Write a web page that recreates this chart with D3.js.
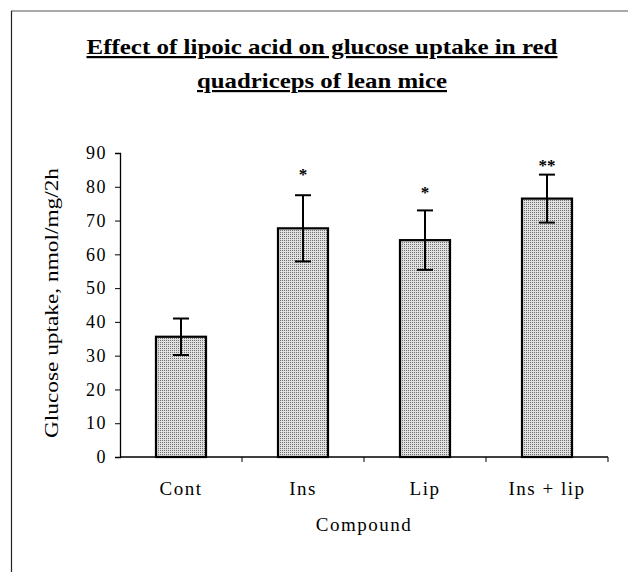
<!DOCTYPE html>
<html>
<head>
<meta charset="utf-8">
<script src="https://cdn.jsdelivr.net/npm/d3@7"></script>
<style>
  body { margin: 0; background: #fff; }
  text { font-family: "Liberation Serif", "Times New Roman", serif; fill: #000; }
</style>
</head>
<body>
<svg width="628" height="572"></svg>
<script>
// data
var compounds = ["Cont", "Ins", "Lip", "Ins + lip"];
var uptake = [35.6, 67.7, 64.2, 76.5];
var errors = [5.4, 9.8, 8.8, 7.1];
var stars = ["", "*", "*", "**"];
var starLevel = [0, 84.7, 79.3, 87.3]; // where the significance marks sit, in y units
var yTicks = [0, 10, 20, 30, 40, 50, 60, 70, 80, 90];

var svg = d3.select("svg");

// frame lines (top and left only are visible)
svg.append("line").attr("x1", 11).attr("y1", 11).attr("x2", 628).attr("y2", 11)
   .attr("stroke", "#555").attr("stroke-width", 1);
svg.append("line").attr("x1", 11.5).attr("y1", 11).attr("x2", 11.5).attr("y2", 572)
   .attr("stroke", "#222").attr("stroke-width", 1.2);

// dotted fill
var defs = svg.append("defs");
var pat = defs.append("pattern").attr("id", "dots")
    .attr("width", 2).attr("height", 2).attr("patternUnits", "userSpaceOnUse");
pat.append("rect").attr("width", 2).attr("height", 2).attr("fill", "#e0e0e0");
pat.append("rect").attr("width", 1).attr("height", 1).attr("fill", "#707070");

var x = d3.scaleBand().domain(compounds).range([120, 608]).paddingInner(0.59).paddingOuter(0.295);
var y = d3.scaleLinear().domain([0, 90]).range([457, 153]);

// title
var title = ["Effect of lipoic acid on glucose uptake in red", "quadriceps of lean mice"];
var tW = [471, 250];
var tY = [54, 88];
title.forEach(function(t, i) {
  svg.append("text").attr("x", 322).attr("y", tY[i]).attr("text-anchor", "middle")
     .attr("font-size", 22).attr("font-weight", "bold")
     .attr("textLength", tW[i]).attr("lengthAdjust", "spacingAndGlyphs")
     .attr("text-decoration", "underline")
     .text(t);
});

// bars
svg.selectAll("rect.bar").data(compounds).enter().append("rect")
   .attr("class", "bar")
   .attr("x", function(d) { return x(d); })
   .attr("y", function(d, i) { return y(uptake[i]); })
   .attr("width", x.bandwidth())
   .attr("height", function(d, i) { return y(0) - y(uptake[i]); })
   .attr("fill", "url(#dots)")
   .attr("stroke", "#000").attr("stroke-width", 2.2);

// error bars
var eb = svg.selectAll("g.err").data(compounds).enter().append("g").attr("class", "err");
eb.append("line")
  .attr("x1", function(d) { return x(d) + x.bandwidth() / 2; })
  .attr("x2", function(d) { return x(d) + x.bandwidth() / 2; })
  .attr("y1", function(d, i) { return y(uptake[i] - errors[i]); })
  .attr("y2", function(d, i) { return y(uptake[i] + errors[i]); })
  .attr("stroke", "#000").attr("stroke-width", 2);
[1, -1].forEach(function(s) {
  eb.append("line")
    .attr("x1", function(d) { return x(d) + x.bandwidth() / 2 - 8; })
    .attr("x2", function(d) { return x(d) + x.bandwidth() / 2 + 8; })
    .attr("y1", function(d, i) { return y(uptake[i] + s * errors[i]); })
    .attr("y2", function(d, i) { return y(uptake[i] + s * errors[i]); })
    .attr("stroke", "#000").attr("stroke-width", 2);
});

// significance stars
svg.selectAll("text.star").data(compounds).enter().append("text")
   .attr("class", "star")
   .attr("x", function(d) { return x(d) + x.bandwidth() / 2; })
   .attr("y", function(d, i) { return y(starLevel[i]) + 9; })
   .attr("text-anchor", "middle").attr("font-size", 17).attr("font-weight", "bold")
   .text(function(d, i) { return stars[i]; });

// y axis
var yAxis = svg.append("g").attr("transform", "translate(120,0)")
   .call(d3.axisLeft(y).tickValues(yTicks).tickSize(5).tickPadding(8));
yAxis.select(".domain").attr("stroke-width", 1.3);
yAxis.selectAll("text").attr("font-size", 18).attr("font-family", "Liberation Serif")
   .attr("letter-spacing", 1.5);

// x axis with ticks on category boundaries
var xAxis = svg.append("g").attr("transform", "translate(0,457)");
xAxis.append("line").attr("x1", 120).attr("x2", 608).attr("stroke", "#000").attr("stroke-width", 1.3);
var bounds = d3.range(1, compounds.length + 1).map(function(i) { return 120 + i * (488 / compounds.length); });
xAxis.selectAll("line.tk").data(bounds).enter().append("line").attr("class", "tk")
   .attr("x1", function(d) { return d; }).attr("x2", function(d) { return d; })
   .attr("y1", 0).attr("y2", 5).attr("stroke", "#000");
xAxis.selectAll("text").data(compounds).enter().append("text")
   .attr("x", function(d) { return x(d) + x.bandwidth() / 2; })
   .attr("y", 38).attr("text-anchor", "middle").attr("font-size", 19)
   .attr("letter-spacing", 1.5)
   .text(function(d) { return d; });

// axis titles
svg.append("text").attr("x", 364).attr("y", 531).attr("text-anchor", "middle")
   .attr("font-size", 19).attr("letter-spacing", 1.5).text("Compound");
svg.append("text").attr("transform", "translate(58,303) rotate(-90)")
   .attr("text-anchor", "middle").attr("font-size", 19)
   .attr("textLength", 270).attr("lengthAdjust", "spacingAndGlyphs")
   .text("Glucose uptake, nmol/mg/2h");
</script>
</body>
</html>
